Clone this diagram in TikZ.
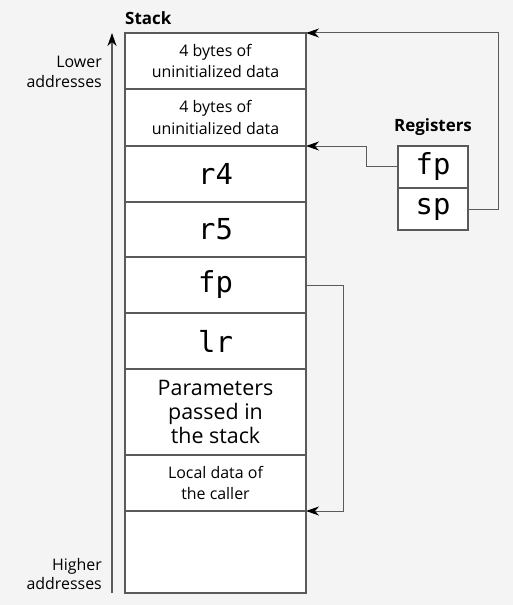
\documentclass[tikz,border=0pt]{standalone}
\usepackage{fontspec}
\setmainfont{Open Sans}
\setmonofont{DejaVu Sans Mono}
\usetikzlibrary{positioning, arrows.meta}
\definecolor{bggray}{HTML}{F4F4F4}
\definecolor{linegray}{HTML}{5A5A5A}

\begin{document}
\begin{tikzpicture}[x=1bp, y=-1bp, node distance=0pt,
    >={Stealth[length=13bp, width=9bp, inset=4bp, color=black]},
    cell/.style={draw=linegray, fill=white, line width=1.2bp, minimum width=181bp,
      inner sep=0pt, outer sep=0pt, align=center, font=\fontsize{16}{22}\selectfont},
    mono/.style={cell, font=\fontsize{29}{30}\ttfamily},
    regcell/.style={mono, minimum width=70bp, minimum height=42bp},
    lbl/.style={inner sep=0pt, font=\fontsize{16}{20}\selectfont},
    title/.style={inner sep=0pt, font=\fontsize{17}{20}\selectfont\bfseries},
    link/.style={->, draw=linegray, line width=1bp}]
      \fill[bggray] (0,0) rectangle (513,605);
      \useasboundingbox (0,0) rectangle (513,605);
      % the stack, top to bottom
      \node[cell, minimum height=56bp, anchor=north west] (b1) at (125,33) {4 bytes of\\uninitialized data};
      \node[cell, minimum height=57bp, below=of b1] (b2) {4 bytes of\\uninitialized data};
      \node[mono, minimum height=56bp, below=of b2] (r4) {r4};
      \node[mono, minimum height=55bp, below=of r4] (r5) {r5};
      \node[mono, minimum height=56bp, below=of r5] (sfp) {fp};
      \node[mono, minimum height=56bp, below=of sfp] (lr) {lr};
      \node[cell, minimum height=86bp, below=of lr, font=\fontsize{21.5}{24}\selectfont] (par) {Parameters\\passed in\\the stack};
      \node[cell, minimum height=56bp, below=of par] (loc) {Local data of\\the caller};
      \node[cell, minimum height=82bp, below=of loc] (free) {};
      \node[title, anchor=west] (stack) at (125,18) {Stack};
      % addresses
      \coordinate (abot) at (112,593);
      \coordinate (atop) at (112,33);
      \draw[->, draw=linegray, line width=1.3bp] (abot) -- (atop);
      \node[lbl, anchor=east, align=right] (lower) at (102,72) {Lower\\addresses};
      \node[lbl, anchor=east, align=right] (higher) at (102,574) {Higher\\addresses};
      % registers
      \node[regcell] (rfp) at (433,167) {fp};
      \node[regcell, below=of rfp] (rsp) {sp};
      \node[title] (regs) at (433,127) {Registers};
      % pointers
      \draw[link] (rsp.east) -- ++(30,0) |- (b1.north east);
      \draw[link] (rfp.west) -- ++(-32,0) |- (b2.south east);
      \draw[link] (sfp.east) -- ++(37,0) |- (loc.south east);
\end{tikzpicture}
\end{document}
